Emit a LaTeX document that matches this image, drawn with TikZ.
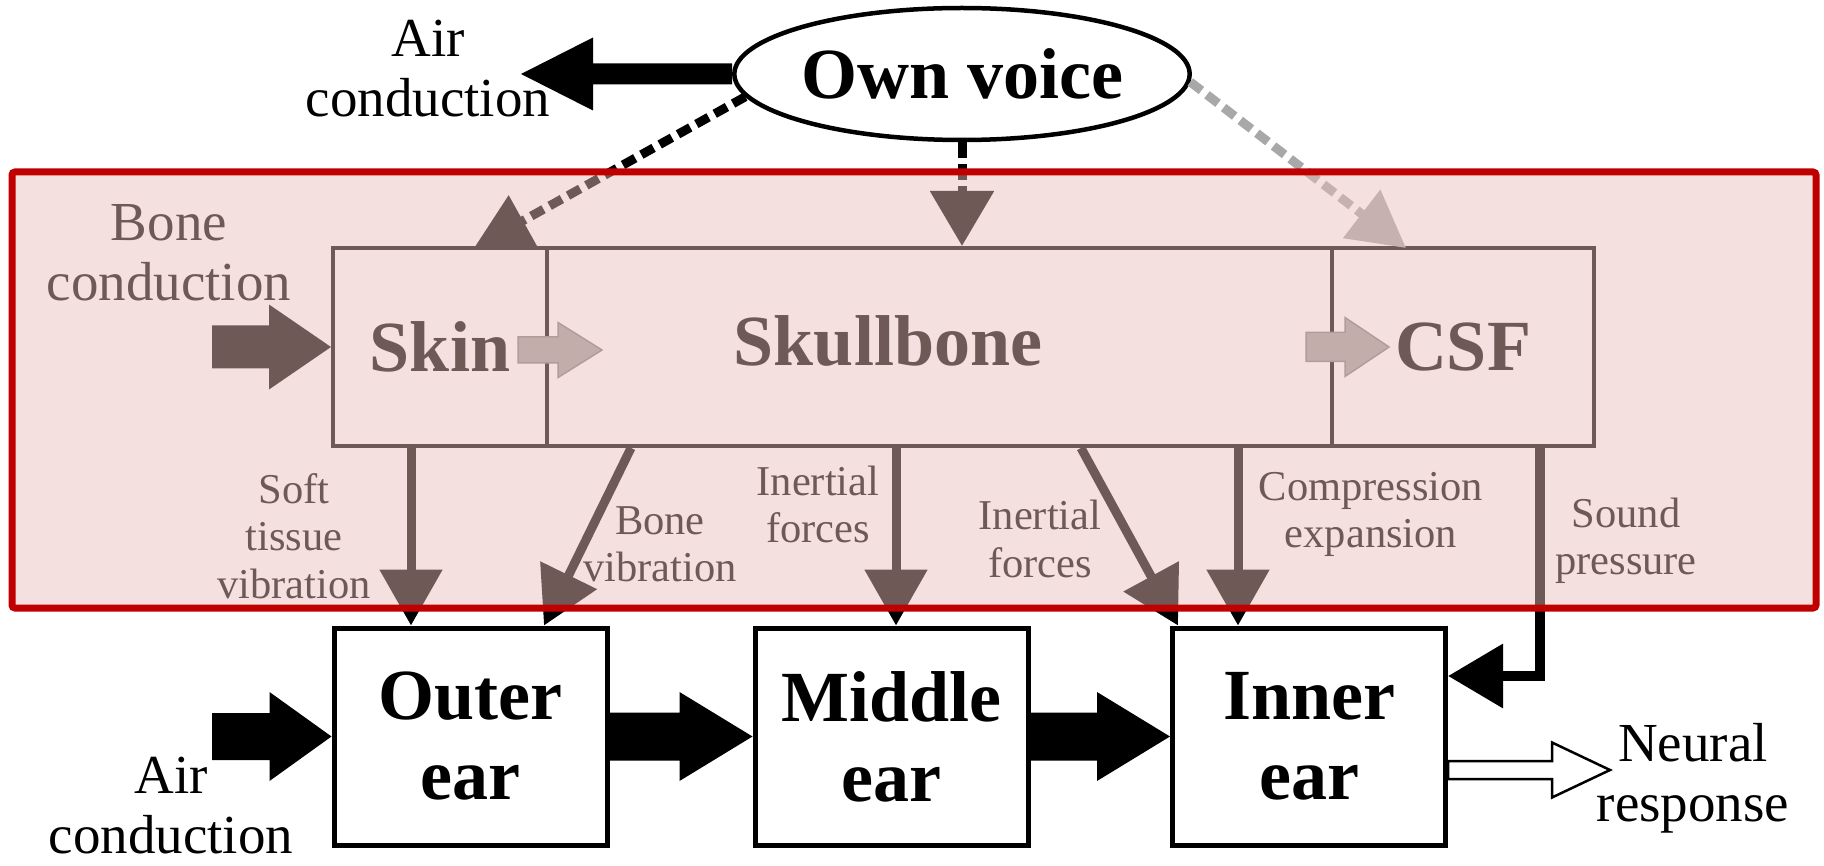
\documentclass[tikz,border=0pt]{standalone}
\usepackage{fontspec}
\setmainfont{Liberation Serif}
\usetikzlibrary{arrows.meta,shapes.geometric,calc}
\definecolor{ovl}{RGB}{232,189,185}
\definecolor{redb}{RGB}{192,0,0}
\definecolor{lgray}{RGB}{160,160,160}
\definecolor{dgray}{RGB}{168,168,168}
% #1 style, #2 start, #3 tip, #4 shaft half width, #5 head half width, #6 head length
\newcommand\blockarrow[6]{%
  \path[#1] let \p1=(#2), \p2=(#3) in
    ({\x1},{\y2+#4}) -- ({\x2-#6},{\y2+#4}) -- ({\x2-#6},{\y2+#5}) -- ({\x2},{\y2})
    -- ({\x2-#6},{\y2-#5}) -- ({\x2-#6},{\y2-#4}) -- ({\x1},{\y2-#4}) -- cycle;}
\begin{document}
\begin{tikzpicture}[x=1pt,y=-1pt,
  bigfont/.style={font=\fontsize{72}{80}\selectfont\bfseries},
  midlab/.style={font=\fontsize{55}{60}\selectfont, align=center, inner sep=0},
  smalllab/.style={font=\fontsize{42.5}{47.5}\selectfont, align=center, inner sep=0},
  part/.style={draw, line width=4pt, inner sep=0, minimum height=198pt},
  earbox/.style={draw, line width=5pt, minimum width=273pt, minimum height=217pt, inner sep=0, bigfont, align=center},
  thinarr/.style={line width=9pt, -{Triangle[length=56pt,width=61pt]}},
  dasharr/.style={line width=9pt, dash pattern=on 14pt off 7pt},
  lightarr/.style={fill=lgray, draw=gray, line width=1.5pt}
]
\useasboundingbox (0,0) rectangle (1824,866);

% nodes
\node[ellipse, draw, line width=4.5pt, minimum width=440pt, minimum height=132pt, inner sep=0, bigfont] (ov) at (962,74) {Own voice};
\node[part, minimum width=214pt, bigfont] (skin) at (440,347) {Skin};
\node[part, minimum width=785pt] (skull) at (939.5,347) {};
\node[bigfont, anchor=base, inner sep=0] (skulltxt) at (888,366) {Skullbone};
\node[part, minimum width=262pt, bigfont] (csf) at (1463,347) {CSF};

\node[earbox] (outer) at (470.5,736.5) {Outer\\ear};
\node[earbox] (middle) at (891.5,736.5) {Middle\\ear};
\node[earbox] (inner) at (1309,736.5) {Inner\\ear};

% labels
\node[midlab] (airtop) at (428,69) {Air\\conduction};
\node[midlab] (bcl) at (169,252.5) {Bone\\conduction};
\node[midlab] (acl) at (171,806) {Air\\conduction};
\node[midlab] (nrl) at (1693,778) {Neural\\response};
\node[smalllab] (l1) at (294,536) {Soft\\tissue\\vibration};
\node[smalllab] (l2) at (660,544.5) {Bone\\vibration};
\node[smalllab] (l3) at (818,504.5) {Inertial\\forces};
\node[smalllab] (l4) at (1040,539) {Inertial\\forces};
\node[smalllab] (l5) at (1371,514.5) {Compression\\expansion};
\node[smalllab] (l6) at (1626,541) {Sound\\pressure};

% coordinates
\coordinate (airT) at (521,74);
\coordinate (skinin) at (474,248);
\coordinate (csfin) at (1406,248);
\coordinate (bcS) at (212,347);
\coordinate (ssS) at (518,350);
\coordinate (ssT) at (602,350);
\coordinate (scS) at (1306,347);
\coordinate (scT) at (1389,347);
\coordinate (o1) at (411,0);
\coordinate (bv1) at (631,0);
\coordinate (bv2) at (544,0);
\coordinate (i1) at (896,0);
\coordinate (i2a) at (1081,0);
\coordinate (i2b) at (1178,0);
\coordinate (ce) at (1238,0);
\coordinate (sp) at (1540,676);
\coordinate (acS) at (212,0);
\coordinate (nrT) at (1610,770);

% top connectors
\blockarrow{fill=black}{ov.west}{airT}{10.5pt}{36.5pt}{(-72pt)}
\draw[dasharr, black, -{Triangle[length=56pt,width=56pt]}] (ov.186) -- (skinin);
\draw[dasharr, black, dash pattern=on 16pt off 6pt, -{Triangle[length=55pt,width=62pt]}] (ov.south) -- (ov.south |- skull.north);
\draw[dasharr, dgray, -{Triangle[length=56pt,width=59pt]}] (ov.-2) -- (csfin);

% bone conduction region
\blockarrow{fill=black}{bcS}{skin.west}{21.5pt}{42.5pt}{62pt}
\blockarrow{lightarr}{ssS}{ssT}{13pt}{27.5pt}{44pt}
\blockarrow{lightarr}{scS}{scT}{14.5pt}{29.5pt}{44pt}

\draw[thinarr] (o1 |- skin.south) -- (o1 |- outer.north);
\draw[thinarr] (bv1 |- skull.south) -- (bv2 |- outer.north);
\draw[thinarr] (i1 |- skull.south) -- (i1 |- middle.north);
\draw[thinarr] (i2a |- skull.south) -- (i2b |- inner.north);
\draw[thinarr] (ce |- skull.south) -- (ce |- inner.north);
\draw[line width=10pt, -{Triangle[length=55pt,width=62pt]}] (sp |- csf.south) -- (sp) -- (sp -| inner.east);

% air conduction chain
\blockarrow{fill=black}{acS |- outer.west}{outer.west}{23.5pt}{44.5pt}{62pt}
\blockarrow{fill=black}{outer.east}{middle.west}{24pt}{44.5pt}{73pt}
\blockarrow{fill=black}{middle.east}{inner.west}{24pt}{44.5pt}{73pt}
\blockarrow{fill=white, draw=black, line width=2.5pt}{inner.east |- nrT}{nrT}{9pt}{27.5pt}{58pt}

% translucent bone-conduction region
\fill[ovl, fill opacity=0.475] (12,172) rectangle (1816,608);
\draw[redb, line width=7pt, rounded corners=3pt] (12,172) rectangle (1816,608);
\end{tikzpicture}
\end{document}
